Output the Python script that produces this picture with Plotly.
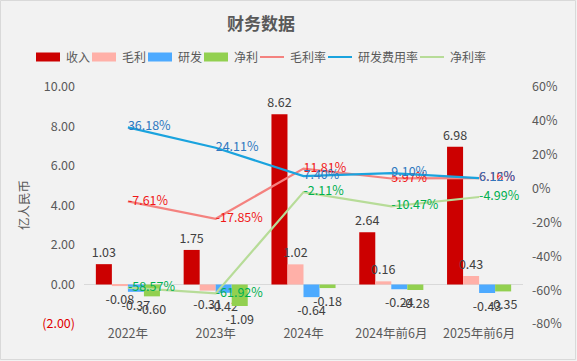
import plotly.graph_objects as go

categories = ["2022年", "2023年", "2024年", "2024年前6月", "2025年前6月"]
revenue = [1.03, 1.75, 8.62, 2.64, 6.98]
gross_profit = [-0.08, -0.31, 1.02, 0.16, 0.43]
rnd = [-0.37, -0.42, -0.64, -0.24, -0.43]
net_profit = [-0.60, -1.09, -0.18, -0.28, -0.35]
gross_margin = [-7.61, -17.85, 11.81, 5.97, 6.16]
rnd_ratio = [36.18, 24.11, 7.40, 9.10, 6.12]
net_margin = [-58.57, -61.92, -2.11, -10.47, -4.99]

left_ticks = [-2, 0, 2, 4, 6, 8, 10]
left_ticktext = ["<span style='color:#E00000'>(2.00)</span>", "0.00", "2.00", "4.00", "6.00", "8.00", "10.00"]
right_ticks = [-80, -60, -40, -20, 0, 20, 40, 60]
right_ticktext = ["-80%", "-60%", "-40%", "-20%", "0%", "20%", "40%", "60%"]

FONT = "Noto Sans CJK SC, Noto Sans, sans-serif"
GRAY = "#595959"
LBL = "#404040"

W, H = 577, 361
L, R, T, B = 84, 54, 87, 37
pw, ph = W - L - R, H - T - B


def px_x(p):
    return (p - L) / pw


def px_y(p):
    return (T + ph - p) / ph


fig = go.Figure()

bar_specs = [
    ("收入", revenue, "#CC0000"),
    ("毛利", gross_profit, "#FFB0A8"),
    ("研发", rnd, "#4DAAFF"),
    ("净利", net_profit, "#92D050"),
]
for name, vals, col in bar_specs:
    fig.add_trace(go.Bar(
        x=categories, y=vals, name=name, marker=dict(color=col, line=dict(width=0)),
        text=[f"{v:.2f}" for v in vals], textposition="outside", constraintext="none",
        textfont=dict(color=LBL, size=12.5, family=FONT), cliponaxis=False, yaxis="y",
        showlegend=False,
    ))

line_specs = [
    ("毛利率", gross_margin, "#F4827F", "#F01818"),
    ("研发费用率", rnd_ratio, "#1AA3DE", "#2E78C0"),
    ("净利率", net_margin, "#B7DC98", "#00B050"),
]
for name, vals, col, tcol in line_specs:
    fig.add_trace(go.Scatter(
        x=categories, y=vals, name=name, mode="lines+text", yaxis="y2",
        line=dict(color=col, width=2.2),
        text=[f"{v:.2f}%" for v in vals], textposition="middle right",
        textfont=dict(color=tcol, size=12.5, family=FONT), cliponaxis=False,
        showlegend=False,
    ))

# manual legend (one row, like the reference)
shapes = []
annotations = []
legend_items = [(n, c, "bar") for n, _, c in bar_specs] + [(n, c, "line") for n, _, c, _ in line_specs]
lx = 36
ly = 57
for name, col, kind in legend_items:
    if kind == "bar":
        shapes.append(dict(type="rect", xref="paper", yref="paper",
                           x0=px_x(lx), x1=px_x(lx + 24), y0=px_y(ly + 4.5), y1=px_y(ly - 4.5),
                           fillcolor=col, line=dict(width=0)))
    else:
        shapes.append(dict(type="line", xref="paper", yref="paper",
                           x0=px_x(lx), x1=px_x(lx + 24), y0=px_y(ly), y1=px_y(ly),
                           line=dict(color=col, width=2)))
    annotations.append(dict(text=name, xref="paper", yref="paper", x=px_x(lx + 28), y=px_y(ly - 1),
                            xanchor="left", yanchor="middle", showarrow=False,
                            font=dict(size=12, color=GRAY, family=FONT)))
    lx = lx + 29 + 12 * len(name) + 3

# y-axis title
annotations.append(dict(text="亿人民币", xref="paper", yref="paper", x=px_x(23), y=px_y(205),
                        xanchor="center", yanchor="middle", textangle=-90, showarrow=False,
                        font=dict(size=12.5, color=GRAY, family=FONT)))
# chart title
annotations.append(dict(text="<b>财务数据</b>", xref="paper", yref="paper", x=px_x(261), y=px_y(22),
                        xanchor="center", yanchor="middle", showarrow=False,
                        font=dict(size=17, color=GRAY, family=FONT)))

# outer border
shapes.append(dict(type="rect", xref="paper", yref="paper",
                   x0=px_x(0.5), x1=px_x(W - 1.5), y0=px_y(H - 1.5), y1=px_y(0.5),
                   line=dict(color="#D9D9D9", width=1), layer="below"))

fig.update_layout(
    width=W, height=H,
    margin=dict(l=L, r=R, t=T, b=B, autoexpand=False),
    paper_bgcolor="#F2F2F2", plot_bgcolor="#F2F2F2",
    font=dict(family=FONT, color=GRAY, size=12.5),
    barmode="group", bargap=0.27, bargroupgap=0,
    showlegend=False,
    xaxis=dict(type="category", showgrid=False, showline=False, ticks="", automargin=False,
               tickfont=dict(size=12.5, color=GRAY)),
    yaxis=dict(range=[-2, 10], tickvals=left_ticks, ticktext=left_ticktext, automargin=False,
               showgrid=False, zeroline=True, zerolinecolor="#D9D9D9", zerolinewidth=1,
               showline=False, ticks="", ticklabelstandoff=8),
    yaxis2=dict(range=[-80, 60], tickvals=right_ticks, ticktext=right_ticktext, automargin=False,
                overlaying="y", side="right", showgrid=False, zeroline=False,
                showline=False, ticks="", ticklabelstandoff=8),
    shapes=shapes,
    annotations=annotations,
)

fig.write_html(
    "out.html",
    config={"displayModeBar": False},
    post_script="document.body.style.margin='0';document.body.style.padding='0';"
                "document.body.style.background='#F2F2F2';document.body.style.overflow='hidden';",
)
